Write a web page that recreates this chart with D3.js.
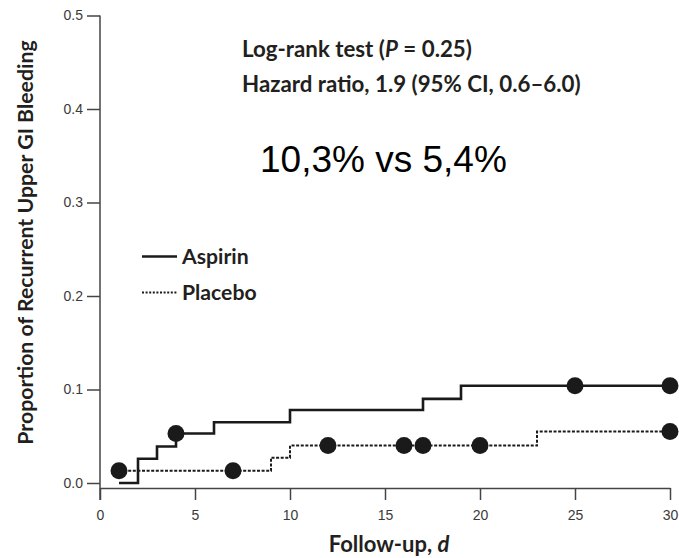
<!DOCTYPE html>
<html>
<head>
<meta charset="utf-8">
<script src="https://cdn.jsdelivr.net/npm/d3@7"></script>
<style>
  body { margin: 0; background: #fff; }
  svg { display: block; }
  .lbl { font-family: Lato, "Open Sans", sans-serif; font-weight: 700; fill: #231f20; }
</style>
</head>
<body>
<div id="chart"></div>
<script>
// Kaplan-Meier style step data (days of follow-up, cumulative proportion)
const aspirinDays = [1, 2, 3, 4, 6, 10, 17, 19, 30];
const aspirinProp = [0, 0.026, 0.039, 0.053, 0.065, 0.078, 0.090, 0.104, 0.104];
const aspirinCensored = [4, 25, 30];

const placeboDays = [1, 9, 10, 23, 30];
const placeboProp = [0.013, 0.027, 0.040, 0.055, 0.055];
const placeboCensored = [1, 7, 12, 16, 17, 20, 30];

const xTicks = [0, 5, 10, 15, 20, 25, 30];
const yTicks = [0, 0.1, 0.2, 0.3, 0.4, 0.5];

const annotations = ["Log-rank test (P = 0.25)", "Hazard ratio, 1.9 (95% CI, 0.6–6.0)"];
const rateText = "10,3% vs 5,4%";

const width = 679, height = 558;

const svg = d3.select("#chart").append("svg")
  .attr("width", width)
  .attr("height", height);

const xScale = d3.scaleLinear().domain([0, 30]).range([100, 670]);
const yScale = d3.scaleLinear().domain([0, 0.5]).range([483, 15.5]);
const xAxisY = 488;

// step lookup for censor marks
function valueAt(days, props, d) {
  let v = props[0];
  days.forEach((t, i) => { if (t <= d) v = props[i]; });
  return v;
}

function styleAxis(g) {
  g.attr("font-size", 14)
    .attr("font-family", "'Liberation Sans', Arial, sans-serif");
  g.selectAll(".tick text").attr("fill", "#3a3a3a");
  g.selectAll(".tick line").attr("stroke", "#444").attr("stroke-width", 1.5);
}

// x-axis
const xAxis = svg.append("g")
  .attr("transform", `translate(0,${xAxisY})`)
  .call(d3.axisBottom(xScale).tickValues(xTicks).tickSize(12).tickSizeOuter(0).tickPadding(10))
  .call(styleAxis);
xAxis.select(".domain").attr("stroke", "#444").attr("stroke-width", 1.5);

// y-axis
const yAxis = svg.append("g")
  .attr("transform", `translate(${xScale(0)},0)`)
  .call(d3.axisLeft(yScale).tickValues(yTicks).tickSize(13).tickPadding(4).tickFormat(d3.format(".1f")))
  .call(styleAxis);
yAxis.select(".domain").remove();
yAxis.append("line")
  .attr("x1", 0).attr("x2", 0)
  .attr("y1", yScale(0.5)).attr("y2", xAxisY + 12)
  .attr("stroke", "#444").attr("stroke-width", 1.5);

// curves
const line = d3.line()
  .x(d => xScale(d[0]))
  .y(d => yScale(d[1]))
  .curve(d3.curveStepAfter);

svg.append("path")
  .attr("d", line(placeboDays.map((d, i) => [d, placeboProp[i]])))
  .attr("fill", "none")
  .attr("stroke", "#1a1a1a")
  .attr("stroke-width", 2)
  .attr("stroke-dasharray", "3,1.6");

svg.append("path")
  .attr("d", line(aspirinDays.map((d, i) => [d, aspirinProp[i]])))
  .attr("fill", "none")
  .attr("stroke", "#1a1a1a")
  .attr("stroke-width", 2.6);

// censor markers
const marks = aspirinCensored.map(d => [d, valueAt(aspirinDays, aspirinProp, d)])
  .concat(placeboCensored.map(d => [d, valueAt(placeboDays, placeboProp, d)]));
svg.selectAll("circle.censor")
  .data(marks)
  .enter()
  .append("circle")
  .attr("class", "censor")
  .attr("cx", d => xScale(d[0]))
  .attr("cy", d => yScale(d[1]))
  .attr("r", 8.5)
  .attr("fill", "#1a1a1a");

// axis titles
svg.append("text")
  .attr("class", "lbl")
  .attr("transform", "translate(33,242.5) rotate(-90)")
  .attr("text-anchor", "middle")
  .attr("font-size", 21.3)
  .text("Proportion of Recurrent Upper GI Bleeding");

const xt = svg.append("text")
  .attr("class", "lbl")
  .attr("x", 389).attr("y", 552)
  .attr("text-anchor", "middle")
  .attr("font-size", 22);
xt.append("tspan").text("Follow-up, ");
xt.append("tspan").attr("font-style", "italic").text("d");

// annotations
annotations.forEach((t, i) => {
  const el = svg.append("text")
    .attr("class", "lbl")
    .attr("x", 242).attr("y", 57 + i * 34.5)
    .attr("font-size", 22.3);
  if (i === 0) {
    el.append("tspan").text("Log-rank test (");
    el.append("tspan").attr("font-style", "italic").text("P");
    el.append("tspan").text(" = 0.25)");
  } else {
    el.text(t);
  }
});

svg.append("text")
  .attr("x", 260).attr("y", 171.5)
  .attr("font-family", "'Liberation Sans', Arial, sans-serif")
  .attr("font-size", 37)
  .attr("fill", "#000")
  .text(rateText);

// legend
const legend = [
  { name: "Aspirin", dash: null, w: 2.6 },
  { name: "Placebo", dash: "2,1.6", w: 2 }
];
const lg = svg.selectAll("g.legend")
  .data(legend)
  .enter()
  .append("g")
  .attr("class", "legend")
  .attr("transform", (d, i) => `translate(142,${256.5 + i * 36})`);
lg.append("line")
  .attr("x1", 0).attr("x2", 35)
  .attr("stroke", "#1a1a1a")
  .attr("stroke-width", d => d.w)
  .attr("stroke-dasharray", d => d.dash);
lg.append("text")
  .attr("class", "lbl")
  .attr("x", 40).attr("y", 7.5)
  .attr("font-size", 21.2)
  .text(d => d.name);
</script>
</body>
</html>
